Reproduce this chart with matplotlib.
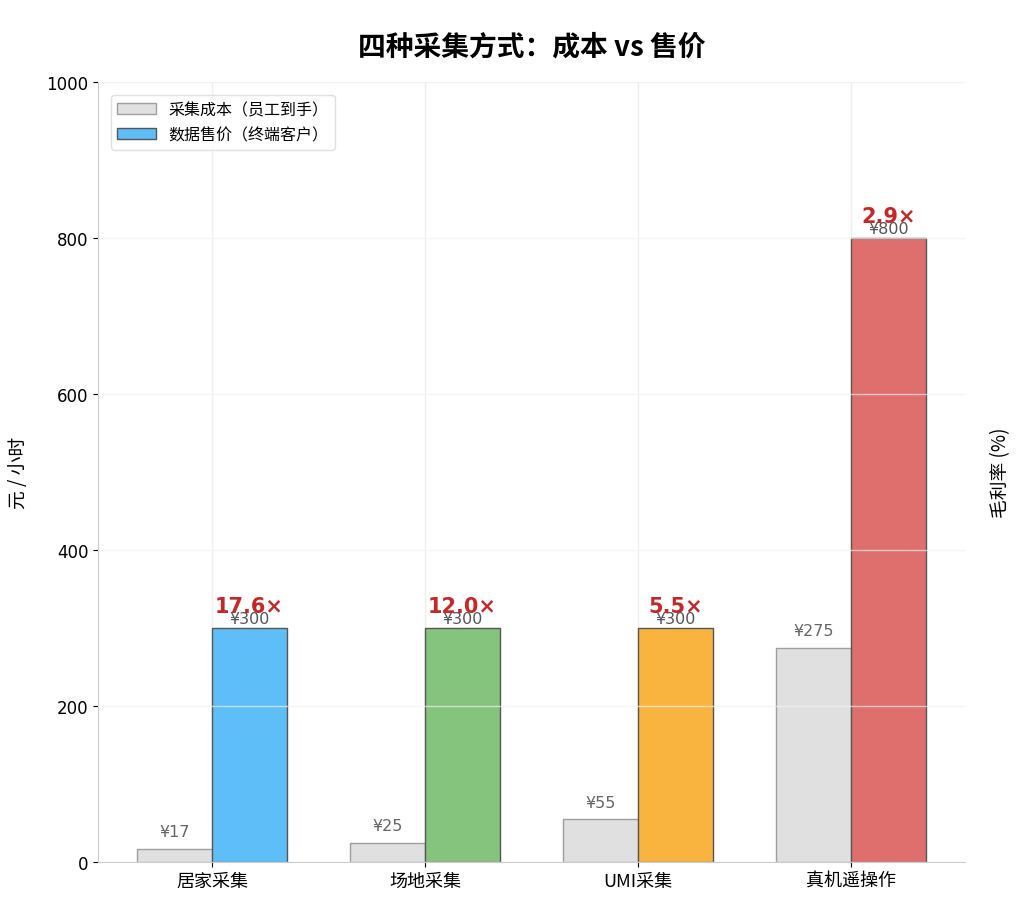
import matplotlib
matplotlib.use("Agg")
import matplotlib.pyplot as plt
import numpy as np

plt.rcParams['font.family'] = ['DejaVu Sans', 'Noto Sans CJK SC']
plt.rcParams['axes.unicode_minus'] = False
CJK = ['Noto Sans CJK SC', 'DejaVu Sans']

categories = ['居家采集', '场地采集', 'UMI采集', '真机遥操作']
cost = [17, 25, 55, 275]
price = [300, 300, 300, 800]
ratio_labels = ['17.6×', '12.0×', '5.5×', '2.9×']
price_colors = ['#5ebef7', '#85c47c', '#f9b43f', '#de6f6c']
cost_color = '#e0e0e0'

fig = plt.figure(figsize=(10.17, 9.03), dpi=100)
ax = fig.add_axes([98/1017, 1-863/903, (965-98)/1017, (863-83)/903])

x = np.arange(len(categories))
w = 0.35
ax.bar(x - w/2, cost, w, color=cost_color, edgecolor='#9e9e9e', linewidth=1.0,
       label='采集成本（员工到手）', zorder=2)
ax.bar(x + w/2, price, w, color=price_colors, edgecolor='#555555', linewidth=1.0,
       label='数据售价（终端客户）', zorder=2)

for xi, c in zip(x, cost):
    ax.text(xi - w/2, c + 12, f'¥{c}', ha='center', va='bottom', fontsize=11.5, color='#666666')
for xi, p, r in zip(x, price, ratio_labels):
    ax.text(xi + w/2, p + 3, f'¥{p}', ha='center', va='bottom', fontsize=11.5, color='#555555', zorder=5)
    ax.text(xi + w/2, p + 16, r, ha='center', va='bottom', fontsize=15, color='#c62828',
            fontweight='bold', zorder=6)

ax.set_ylim(0, 1000)
ax.set_xticks(x)
ax.set_xticklabels(categories, fontsize=13, family=CJK)
ax.tick_params(axis='y', labelsize=12)
ax.set_ylabel('元 / 小时', fontsize=13.5, labelpad=12, family=CJK)
for s in ['top', 'right']:
    ax.spines[s].set_visible(False)
for s in ['left', 'bottom']:
    ax.spines[s].set_color('#cccccc')
ax.set_axisbelow(True)
ax.grid(True, axis='x', color='#eeeeee', linewidth=1.0)

leg = ax.legend(loc='upper left', frameon=True, framealpha=0.9,
                edgecolor='#dddddd', borderaxespad=0.8,
                prop={'family': CJK, 'size': 11.5}, handlelength=2.4)

ax2 = ax.twinx()
ax2.set_ylim(0, 1)
ax2.grid(True, color='#f0f0f0', alpha=0.7, linewidth=1.0)
ax2.tick_params(axis='y', right=False, labelright=False)
for s in ax2.spines.values():
    s.set_visible(False)
ax2.set_ylabel('毛利率 (%)', fontsize=13.5, labelpad=18, family=CJK)

ax.set_title('四种采集方式：成本 vs 售价', fontsize=20, fontweight='bold', pad=20, family=CJK)

fig.savefig('out.png', dpi=100, facecolor='white')
